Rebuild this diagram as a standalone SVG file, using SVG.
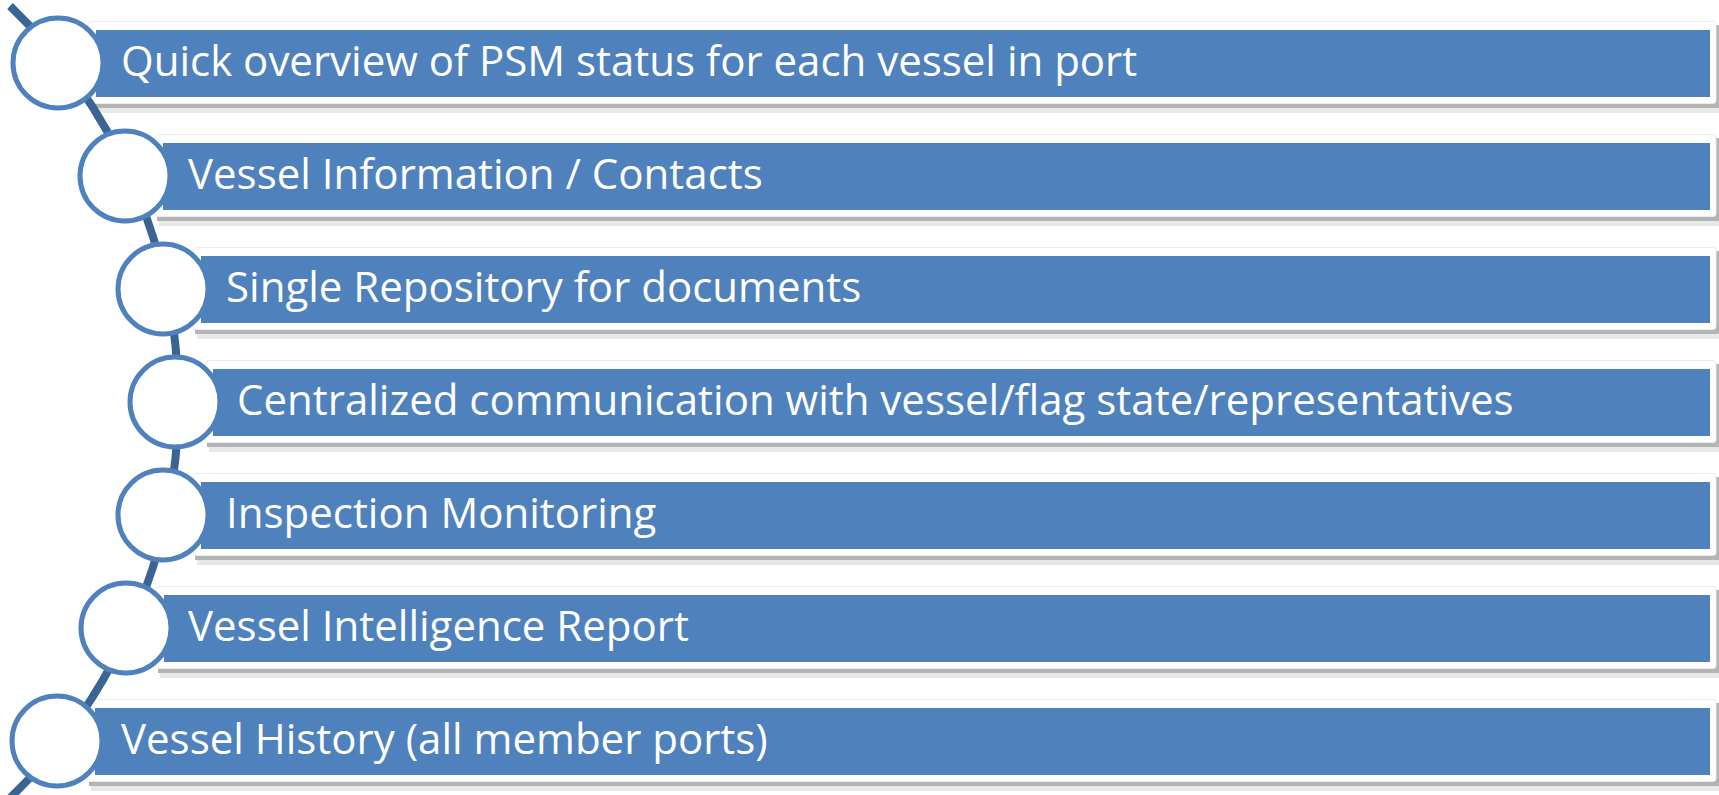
<svg xmlns="http://www.w3.org/2000/svg" width="1719" height="795" viewBox="0 0 1719 795">
<style>
.sh1{fill:#b4b4b4}
.sh2{fill:#e8e8e8}
.frame{fill:#ffffff;stroke:#ececec;stroke-width:1}
.bar{fill:#4f81bd}
.dot{fill:#ffffff;stroke:#4f81bd;stroke-width:5}
.lbl{font-family:"Open Sans","Noto Sans",sans-serif;font-size:42px;fill:#ffffff}
.conn{fill:none;stroke:#3a6494;stroke-width:8}
</style>
<rect width="1719" height="795" fill="#ffffff"/>
<g id="frames">
<g id="row1-bg"><rect class="sh2" x="92" y="25" width="1627" height="88"/><rect class="sh1" x="90" y="25" width="1629" height="83"/><rect class="frame" x="88" y="21.5" width="1628" height="82" rx="3"/><rect class="bar" x="96" y="30" width="1614" height="67"/></g>
<g id="row2-bg"><rect class="sh2" x="159" y="138" width="1560" height="88"/><rect class="sh1" x="157" y="138" width="1562" height="83"/><rect class="frame" x="155" y="134.5" width="1561" height="82" rx="3"/><rect class="bar" x="163" y="143" width="1547" height="67"/></g>
<g id="row3-bg"><rect class="sh2" x="197" y="251" width="1522" height="88"/><rect class="sh1" x="195" y="251" width="1524" height="83"/><rect class="frame" x="193" y="247.5" width="1523" height="82" rx="3"/><rect class="bar" x="201" y="256" width="1509" height="67"/></g>
<g id="row4-bg"><rect class="sh2" x="209" y="364" width="1510" height="88"/><rect class="sh1" x="207" y="364" width="1512" height="83"/><rect class="frame" x="205" y="360.5" width="1511" height="82" rx="3"/><rect class="bar" x="213" y="369" width="1497" height="67"/></g>
<g id="row5-bg"><rect class="sh2" x="197" y="477" width="1522" height="88"/><rect class="sh1" x="195" y="477" width="1524" height="83"/><rect class="frame" x="193" y="473.5" width="1523" height="82" rx="3"/><rect class="bar" x="201" y="482" width="1509" height="67"/></g>
<g id="row6-bg"><rect class="sh2" x="160" y="590" width="1559" height="88"/><rect class="sh1" x="158" y="590" width="1561" height="83"/><rect class="frame" x="156" y="586.5" width="1560" height="82" rx="3"/><rect class="bar" x="164" y="595" width="1546" height="67"/></g>
<g id="row7-bg"><rect class="sh2" x="91" y="703" width="1628" height="88"/><rect class="sh1" x="89" y="703" width="1630" height="83"/><rect class="frame" x="87" y="699.5" width="1629" height="82" rx="3"/><rect class="bar" x="95" y="708" width="1615" height="67"/></g>
</g>
<g id="connectors">
<path class="conn" d="M 10 6 A 550 550 0 0 1 10 798"/>
</g>
<g id="node1"><circle class="dot" cx="58" cy="63" r="45"/><text class="lbl" x="121" y="76">Quick overview of PSM status for each vessel in port</text></g>
<g id="node2"><circle class="dot" cx="125" cy="176" r="45"/><text class="lbl" x="188" y="189">Vessel Information / Contacts</text></g>
<g id="node3"><circle class="dot" cx="163" cy="289" r="45"/><text class="lbl" x="226" y="302">Single Repository for documents</text></g>
<g id="node4"><circle class="dot" cx="175" cy="402" r="45"/><text class="lbl" x="237" y="415">Centralized communication with vessel/flag state/representatives</text></g>
<g id="node5"><circle class="dot" cx="163" cy="515" r="45"/><text class="lbl" x="226" y="528">Inspection Monitoring</text></g>
<g id="node6"><circle class="dot" cx="126" cy="628" r="45"/><text class="lbl" x="188" y="641">Vessel Intelligence Report</text></g>
<g id="node7"><circle class="dot" cx="57" cy="741" r="45"/><text class="lbl" x="121" y="754">Vessel History (all member ports)</text></g>
</svg>
